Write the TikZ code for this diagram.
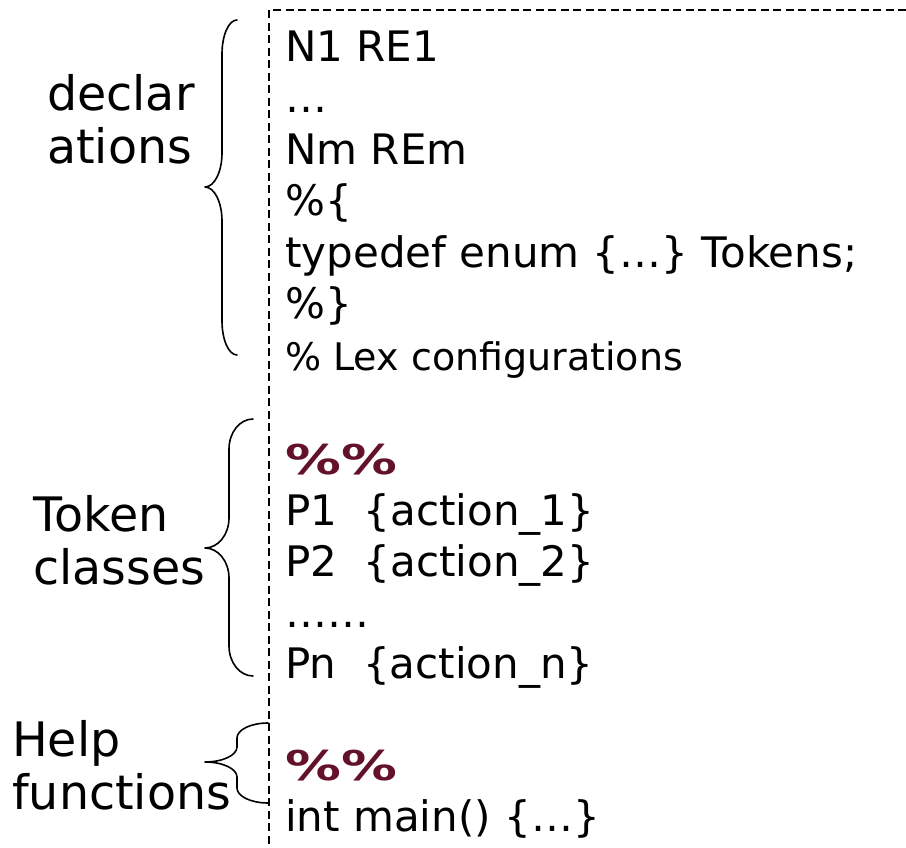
\documentclass[tikz,border=0pt]{standalone}
\usepackage{fontspec}
\usepackage{graphicx}
\setmainfont{DejaVu Sans}
\usetikzlibrary{positioning}
\definecolor{pct_maroon}{RGB}{99,18,42}

% left brace: end x, spine x, tip x, top y, mid y, bottom y, curl height (y downwards, px)
\newcommand{\sidebrace}[7]{%
  \draw[brace line] (#1,-#4)
    .. controls ({#1-0.552*(#1-#2)},-#4) and (#2,{-#4-0.448*#7}) .. (#2,{-#4-#7})
    -- (#2,{-#5+#7})
    .. controls (#2,{-#5+0.448*#7}) and ({#3+0.552*(#2-#3)},-#5) .. (#3,-#5)
    .. controls ({#3+0.552*(#2-#3)},-#5) and (#2,{-#5-0.448*#7}) .. (#2,{-#5-#7})
    -- (#2,{-#6+#7})
    .. controls (#2,{-#6+0.448*#7}) and ({#1-0.552*(#1-#2)},-#6) .. (#1,-#6);
}

\begin{document}
\begin{tikzpicture}[x=1pt, y=1pt,
    code/.style={anchor=base west, inner sep=0pt, font=\fontsize{42}{50}\selectfont},
    small code/.style={anchor=base west, inner sep=0pt, font=\fontsize{38}{45}\selectfont},
    sepmark/.style={anchor=base west, inner sep=0pt, text=pct_maroon, font=\bfseries\fontsize{41}{49}\selectfont},
    note/.style={anchor=base west, inner sep=0pt, font=\fontsize{47.5}{57}\selectfont},
    brace line/.style={line width=1.6pt, line join=round, line cap=round},
    frame line/.style={line width=1.3pt, dash pattern=on 8pt off 4.5pt}]
  \useasboundingbox (0,0) rectangle (906,-848);
  % dashed outline of the lex file
  \draw[frame line] (906,-10) -- (269,-10) -- (269,-848);
  % declarations
  \node[code] (n1) at (285,-62) {N1 RE1};
  \node[code] (dots1) at (285,-113) {…};
  \node[code] (nm) at (285,-165) {Nm REm};
  \node[code] (popen) at (285,-216) {\%\{};
  \node[code] (tdef) at (285,-267) {typedef enum \{…\} Tokens;};
  \node[code] (pclose) at (285,-318) {\%\}};
  \node[small code] (lexcfg) at (285,-370) {\% Lex configurations};
  % rules
  \node[sepmark] (sep1) at (285,-474) {\scalebox{1.36}[1]{\%\%}};
  \node[code] (p1) at (285,-525) {P1\ \ \{action\_1\}};
  \node[code] (p2) at (285,-576) {P2\ \ \{action\_2\}};
  \node[code] (dots2) at (285,-627) {……};
  \node[code] (pn) at (285,-678) {Pn\ \ \{action\_n\}};
  % user code
  \node[sepmark] (sep2) at (285,-780) {\scalebox{1.36}[1]{\%\%}};
  \node[code] (mainfn) at (285,-831) {int main() \{…\}};
  % section labels
  \node[note] (decl1) at (47,-111) {declar};
  \node[note] (decl2) at (47,-164) {ations};
  \node[note] (tok1) at (33,-531) {Token};
  \node[note] (tok2) at (33,-584) {classes};
  \node[note] (help1) at (12,-756) {Help};
  \node[note] (help2) at (12,-809) {functions};
  \sidebrace{237}{222}{205}{20}{187}{355}{34}
  \sidebrace{253}{229}{205}{419}{548}{676}{30}
  \sidebrace{268}{237}{205}{723}{762}{803}{15}
\end{tikzpicture}
\end{document}
